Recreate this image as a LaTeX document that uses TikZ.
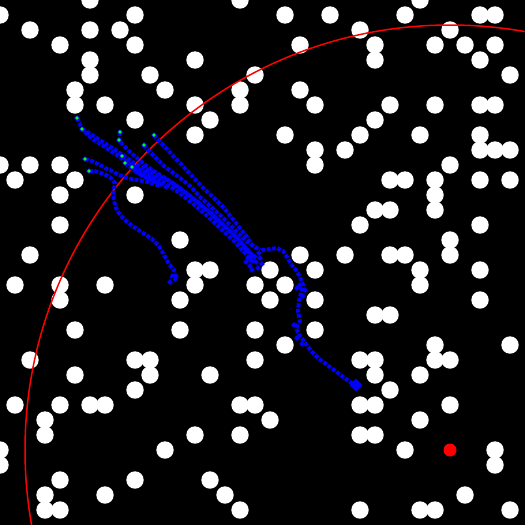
\documentclass[tikz,border=0pt]{standalone}
\definecolor{startgreen}{RGB}{0,255,0}
\definecolor{pathblue}{RGB}{0,0,255}
\newcommand\dotrow[2]{\foreach \xx in {#2} {\fill[white] (\xx,#1) circle (8.7pt);}}
\newcommand\bdm[2]{\fill[pathblue] #1 +(-#2pt,0pt) -- +(0pt,-#2pt) -- +(#2pt,0pt) -- +(0pt,#2pt) -- cycle;}
\begin{document}
\begin{tikzpicture}[x=1pt,y=-1pt,
  traj/.style={draw=pathblue, line width=3.9pt, dash pattern=on 3.8pt off 1.6pt},
  startpt/.style={fill=startgreen}]
\useasboundingbox (0,0) rectangle (525,525);
\fill[black] (0,0) rectangle (525,525);
\begin{scope}
\clip (0,0) rectangle (525,525);
% obstacles
\dotrow{0}{90,240,420}
\dotrow{15}{0,135,285,330,405,480,495}
\dotrow{30}{30,90,120,360,450}
\dotrow{45}{60,135,300,375,435,465,495}
\dotrow{60}{90,195,375,480}
\dotrow{75}{90,150,255,510}
\dotrow{90}{75,165,240,300}
\dotrow{105}{75,105,195,240,315,390,435,480,495}
\dotrow{120}{135,210,375}
\dotrow{135}{195,285,360,420,480}
\dotrow{150}{315,345,480,495,510}
\dotrow{165}{0,30,60,315,450}
\dotrow{180}{15,75,390,405,435,480,510}
\dotrow{195}{60,135,435}
\dotrow{210}{375,390,435}
\dotrow{225}{60,360,480}
\dotrow{240}{180,450}
\dotrow{255}{30,300,345,390,405,450}
\dotrow{270}{195,210,270,315,420,480}
\dotrow{285}{15,60,105,195,255,285,420}
\dotrow{300}{60,180,270,315,480}
\dotrow{315}{375,390}
\dotrow{330}{75,180,255,315}
\dotrow{345}{285,435,510}
\dotrow{360}{30,135,150,255,360,375,435,450}
\dotrow{375}{75,150,210,375,420}
\dotrow{390}{135,390}
\dotrow{405}{15,60,90,105,240,255,360,375,450}
\dotrow{420}{45,270,420}
\dotrow{435}{45,195,240,360,375}
\dotrow{450}{0,165,405,495}
\dotrow{465}{0,495}
\dotrow{480}{60,135,210}
\dotrow{495}{45,105,225,465}
\dotrow{510}{45,60,240,360,420,435,510}
% goal region
\draw[red, line width=1.5pt] (450,450) circle (425pt);
\fill[red] (450,450) circle (6.5pt);
% trajectories
\draw[traj] (77,118) -- (82,129) -- (90,137) -- (100,144) -- (111,151) -- (121,158) -- (131,165) -- (142,171) -- (154,177) -- (166,184) -- (178,192) -- (192,203) -- (206,215) -- (220,228) -- (233,240) -- (244,252) -- (252,261);
\draw[traj] (82,129) -- (92,135) -- (103,142) -- (114,149) -- (124,156) -- (134,163) -- (145,168) -- (157,175) -- (169,181) -- (181,189) -- (195,200) -- (209,212) -- (223,225) -- (236,237) -- (247,249) -- (255,258);
\draw[traj] (120,132) -- (119,140) -- (124,146) -- (130,152) -- (137,158) -- (144,164) -- (152,170) -- (162,176) -- (173,183) -- (185,192) -- (199,203) -- (213,215) -- (227,228) -- (239,240) -- (249,253) -- (254,262);
\draw[traj] (144,145) -- (150,152) -- (157,159) -- (164,166) -- (172,172) -- (180,178) -- (190,186) -- (200,197) -- (210,206) -- (220,215) -- (230,225) -- (238,233) -- (247,242) -- (257,248);
\draw[traj] (154,135) -- (160,142) -- (166,148) -- (172,155) -- (182,165) -- (193,177) -- (203,188) -- (213,197) -- (223,207) -- (232,218) -- (240,228) -- (247,237) -- (252,245) -- (260,250);
\draw[traj] (122,156) -- (128,162) -- (136,168) -- (146,173) -- (157,179);
\draw[traj] (125,163) -- (131,168) -- (140,174) -- (150,179) -- (160,184);
\draw[traj] (132,167) -- (138,173) -- (147,178) -- (158,183) -- (168,188);
\draw[traj] (85,159) -- (92,161) -- (98,164) -- (105,168) -- (112,171) -- (119,175) -- (127,178) -- (137,180) -- (148,182) -- (160,186);
\draw[traj] (89,171) -- (95,171) -- (101,173) -- (106,175) -- (111,178) -- (115,183) -- (114,189) -- (113,195) -- (114,201) -- (116,208) -- (120,215) -- (126,221) -- (134,227) -- (143,233) -- (152,239) -- (159,246) -- (164,255) -- (169,264) -- (174,270) -- (172,277) -- (178,281);
\draw[traj] (250,262) -- (256,255) -- (263,250) -- (270,249) -- (277,248) -- (283,251) -- (287,257) -- (291,264) -- (296,270) -- (300,277) -- (303,285) -- (301,293) -- (299,301) -- (298,311) -- (300,321) -- (296,328) -- (299,334) -- (303,340) -- (308,347) -- (315,355) -- (322,361) -- (330,367) -- (338,373) -- (346,379) -- (353,384);
% clusters
\foreach \p in {(245,252),(248,258),(250,266),(256,262),(260,258),(262,264),(258,268),(252,270),(246,262),(300,285),(305,290),(297,288),(303,296),(294,325),(297,338),(302,344),(170,282),(176,276)}
  {\bdm{\p}{2.8}}
\bdm{(356,385)}{6.5}
% start points
\foreach \p in {(77,118),(82,129),(120,132),(119,140),(154,135),(144,145),(85,159),(89,171),(122,156),(125,163),(132,167)}
  {\bdm{\p}{3}\fill[startgreen] \p circle (1.8pt);}
\end{scope}
\end{tikzpicture}
\end{document}
